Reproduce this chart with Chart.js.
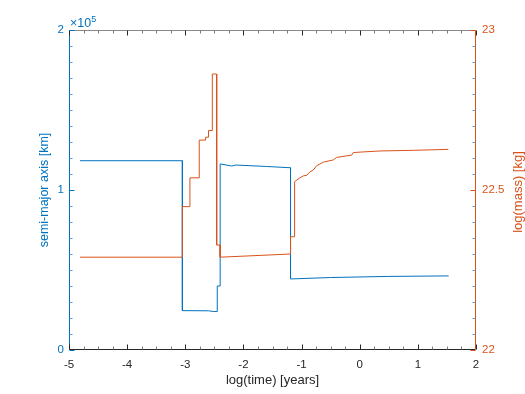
<!DOCTYPE html>
<html>
<head>
<meta charset="utf-8">
<script src="https://cdn.jsdelivr.net/npm/chart.js@4"></script>
<style>html,body{margin:0;padding:0;background:#fff;}canvas{display:block;}</style>
</head>
<body>
<canvas id="c" width="525" height="394"></canvas>
<script>
// Data
const semiMajorTime = [-4.81, -3.05, -3.05, -2.6, -2.52, -2.45, -2.45, -2.40, -2.40, -2.20, -2.13, -1.60, -1.19, -1.19, -0.5, 0.5, 1.53];
const semiMajorKm   = [118300, 118300, 24600, 24500, 24100, 24000, 40000, 40000, 116300, 115000, 115600, 114700, 113900, 44400, 45300, 46000, 46300];

const massTime = [-4.81, -3.05, -3.05, -2.92, -2.92, -2.76, -2.76, -2.65, -2.65, -2.60, -2.60, -2.535, -2.535, -2.46, -2.46, -2.40, -2.40, -1.19, -1.19, -1.12, -1.12, -1.03, -0.97, -0.91, -0.855, -0.798, -0.74, -0.626, -0.454, -0.396, -0.138, -0.11, 0.062, 0.349, 0.922, 1.524];
const logMass  = [22.29, 22.29, 22.448, 22.448, 22.538, 22.538, 22.656, 22.656, 22.665, 22.665, 22.686, 22.686, 22.8625, 22.8625, 22.328, 22.328, 22.29, 22.30, 22.354, 22.354, 22.526, 22.538, 22.544, 22.546, 22.557, 22.5625, 22.576, 22.587, 22.594, 22.602, 22.609, 22.617, 22.619, 22.622, 22.624, 22.627];

const xTicks = [-5, -4, -3, -2, -1, 0, 1, 2];
const leftTicks = [0, 100000, 200000];
const rightTicks = [22, 22.5, 23];
const rightTitle = 'log(mass) [kg]';

const BLUE = '#0072BD', ORANGE = '#D95319', DARK = '#262626';
const FONT = 'Liberation Sans, Arial, Helvetica, sans-serif';

const blueData = semiMajorTime.map((t, i) => ({x: t, y: semiMajorKm[i]}));
const orangeData = massTime.map((t, i) => ({x: t, y: logMass[i]}));

const axesPlugin = {
  id: 'matlabAxes',
  afterDraw(chart) {
    const {ctx, chartArea: {left, right, top, bottom}, scales: {x, y, y1}} = chart;
    ctx.save();
    ctx.lineWidth = 1;
    const L = Math.round(left) + 0.5, R = Math.round(right) - 0.5;
    const T = Math.round(top) + 0.5, B = Math.round(bottom) - 0.5;
    function line(x1, y1_, x2, y2, c) { ctx.strokeStyle = c; ctx.beginPath(); ctx.moveTo(x1, y1_); ctx.lineTo(x2, y2); ctx.stroke(); }
    // box lines
    line(L, T, R, T, '#8a8a8a');
    line(L, B, R, B, DARK);
    line(L, T, L, B, BLUE);
    line(R, T, R, B, ORANGE);
    // x ticks (bottom & top), minor every 0.25
    for (let v = -5; v <= 2.0001; v += 0.25) {
      const px = Math.round(x.getPixelForValue(v)) + 0.5;
      const major = Math.abs(v - Math.round(v)) < 1e-6;
      const len = major ? 5 : 3;
      line(px, B, px, B - len, major ? DARK : '#7a7a7a');
      line(px, T, px, T + len, major ? DARK : '#7a7a7a');
    }
    // left ticks, minor every 10000
    for (let v = 0; v <= 200000 + 1; v += 10000) {
      const py = Math.round(y.getPixelForValue(v)) + 0.5;
      const major = v % 100000 === 0;
      line(L, py, L + (major ? 5 : 3), py, major ? BLUE : '#5a9fd4');
    }
    // right ticks, minor every 0.05
    for (let k = 0; k <= 20; k++) {
      const v = 22 + k * 0.05;
      const py = Math.round(y1.getPixelForValue(v)) + 0.5;
      const major = k % 10 === 0;
      line(R, py, R - (major ? 5 : 3), py, major ? ORANGE : '#5a9fd4');
    }
    // exponent label
    ctx.fillStyle = BLUE;
    ctx.textBaseline = 'alphabetic';
    ctx.textAlign = 'left';
    ctx.font = '12.5px ' + FONT;
    ctx.fillText('\u00d710', left + 1, top - 3);
    const w = ctx.measureText('\u00d710').width;
    ctx.font = '9px ' + FONT;
    ctx.fillText('5', left + 1 + w, top - 8);
    // right axis title, reading bottom-to-top
    ctx.save();
    ctx.translate(518, (top + bottom) / 2 + 2);
    ctx.rotate(-Math.PI / 2);
    ctx.textAlign = 'center';
    ctx.textBaseline = 'middle';
    ctx.fillStyle = ORANGE;
    ctx.font = '13px ' + FONT;
    ctx.fillText(rightTitle, 0, 0);
    ctx.restore();
    ctx.restore();
  }
};

new Chart(document.getElementById('c'), {
  type: 'line',
  data: {
    datasets: [
      {label: 'semi-major axis', data: blueData, yAxisID: 'y', borderColor: BLUE, borderWidth: 1, pointRadius: 0, tension: 0, fill: false, order: 2},
      {label: 'log(mass)', data: orangeData, yAxisID: 'y1', borderColor: ORANGE, borderWidth: 1, pointRadius: 0, tension: 0, fill: false, order: 1}
    ]
  },
  options: {
    responsive: false,
    devicePixelRatio: 1,
    animation: false,
    layout: {padding: {left: 0, right: 0, top: 30, bottom: 0}},
    plugins: {legend: {display: false}, tooltip: {enabled: false}},
    scales: {
      x: {
        type: 'linear', min: -5, max: 2,
        afterBuildTicks(s) { s.ticks = xTicks.map(v => ({value: v})); },
        afterFit(s) { s.height = 44; },
        grid: {display: false, drawTicks: false},
        border: {display: false},
        ticks: {color: DARK, font: {family: FONT, size: 11.5}, padding: 8, maxRotation: 0, callback: v => String(v)},
        title: {display: true, text: 'log(time) [years]', color: DARK, font: {family: FONT, size: 13}, padding: {top: 0, bottom: 6}}
      },
      y: {
        type: 'linear', position: 'left', min: 0, max: 200000,
        afterBuildTicks(s) { s.ticks = leftTicks.map(v => ({value: v})); },
        afterFit(s) { s.width = 69; },
        grid: {display: false, drawTicks: false},
        border: {display: false},
        ticks: {color: BLUE, font: {family: FONT, size: 11.5}, padding: 5, callback: v => String(v / 100000)},
        title: {display: true, text: 'semi-major axis [km]', color: BLUE, font: {family: FONT, size: 12.5}, padding: {top: 37, bottom: 0}}
      },
      y1: {
        type: 'linear', position: 'right', min: 22, max: 23,
        afterBuildTicks(s) { s.ticks = rightTicks.map(v => ({value: v})); },
        afterFit(s) { s.width = 49; },
        grid: {display: false, drawTicks: false},
        border: {display: false},
        ticks: {color: ORANGE, font: {family: FONT, size: 11.5}, padding: 6, callback: v => String(v)},
        title: {display: false}
      }
    }
  },
  plugins: [axesPlugin]
});
</script>
</body>
</html>
